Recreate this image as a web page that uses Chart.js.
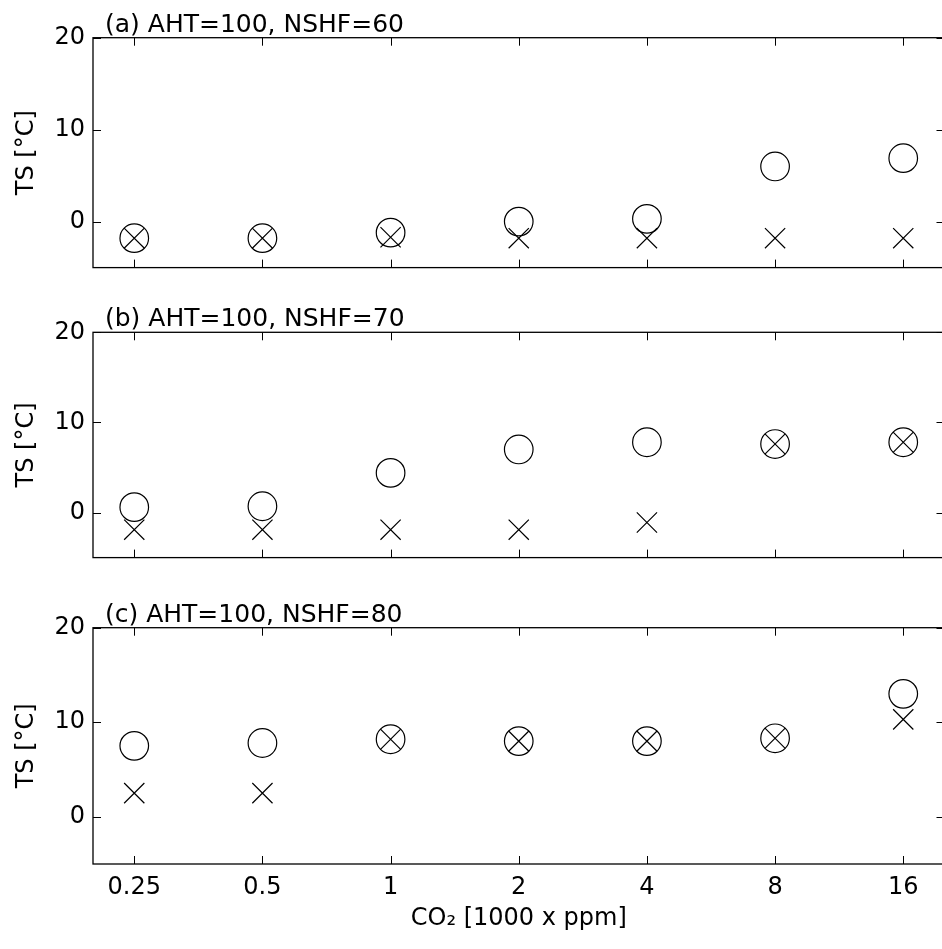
<!DOCTYPE html>
<html lang="en">
<head>
    <meta charset="UTF-8">
    <title>TS vs CO2</title>
    <script src="https://cdn.jsdelivr.net/npm/chart.js"></script>
    <style>
        body {
            margin: 0;
            background: #fff;
            overflow: hidden;
        }
        .wrap {
            position: relative;
            width: 942px;
            height: 949px;
            overflow: hidden;
        }
        .panel {
            position: absolute;
            left: 0;
        }
    </style>
</head>
<body>
    <div class="wrap">
        <div class="panel" style="top:0px"><canvas id="panelA" width="960" height="290"></canvas></div>
        <div class="panel" style="top:290px"><canvas id="panelB" width="960" height="290"></canvas></div>
        <div class="panel" style="top:580px"><canvas id="panelC" width="960" height="369"></canvas></div>
    </div>

    <script>
        // CO2 levels (1000 x ppm)
        const co2 = [0.25, 0.5, 1, 2, 4, 8, 16];
        const yTicks = [0, 10, 20];

        // (a) NSHF=60
        const circA = [-1.8, -1.8, -1.2, 0.0, 0.3, 6.0, 6.9];
        const crossA = [-1.8, -1.8, -1.7, -1.8, -1.8, -1.8, -1.8];
        // (b) NSHF=70
        const circB = [0.6, 0.7, 4.4, 7.0, 7.8, 7.6, 7.8];
        const crossB = [-1.9, -1.9, -1.9, -1.9, -1.1, 7.6, 7.8];
        // (c) NSHF=80
        const circC = [7.5, 7.8, 8.2, 8.0, 8.0, 8.3, 13.0];
        const crossC = [2.5, 2.5, 8.2, 8.0, 8.0, 8.3, 10.3];

        const titles = ['(a) AHT=100, NSHF=60', '(b) AHT=100, NSHF=70', '(c) AHT=100, NSHF=80'];

        // wide sans, closest to the stretched helvetica of the original
        const FONT = "'DejaVu Sans', sans-serif";

        // box frame, inward ticks and the panel title, matlab style
        const framePlugin = {
            id: 'frame',
            afterDraw(chart, args, opts) {
                const ctx = chart.ctx;
                const { left, right, top, bottom } = chart.chartArea;
                const xs = chart.scales.x, ys = chart.scales.y;
                ctx.save();
                ctx.strokeStyle = '#000';
                ctx.lineWidth = 1.3;
                ctx.strokeRect(left, top, right - left, bottom - top);
                ctx.lineWidth = 1;
                ctx.beginPath();
                co2.forEach(v => {
                    const x = Math.round(xs.getPixelForValue(v)) + 0.5;
                    ctx.moveTo(x, top); ctx.lineTo(x, top + 8);
                    ctx.moveTo(x, bottom); ctx.lineTo(x, bottom - 8);
                });
                yTicks.forEach(v => {
                    const y = Math.round(ys.getPixelForValue(v)) + 0.5;
                    ctx.moveTo(left, y); ctx.lineTo(left + 8, y);
                    ctx.moveTo(right, y); ctx.lineTo(right - 8, y);
                });
                ctx.stroke();
                ctx.fillStyle = '#000';
                ctx.font = '25px ' + FONT;
                ctx.textAlign = 'left';
                ctx.textBaseline = 'alphabetic';
                ctx.fillText(opts.title, left + 12, top - 6);
                ctx.restore();
            }
        };

        function makePanel(id, circ, cross, title, showX, padTop, padBottom) {
            new Chart(document.getElementById(id), {
                type: 'scatter',
                data: {
                    datasets: [{
                        label: 'o',
                        data: co2.map((c, i) => ({ x: c, y: circ[i] })),
                        pointStyle: 'circle',
                        pointRadius: 14.3,
                        pointHoverRadius: 14.3,
                        borderColor: '#000',
                        backgroundColor: 'rgba(0,0,0,0)',
                        borderWidth: 1.2
                    }, {
                        label: 'x',
                        data: co2.map((c, i) => ({ x: c, y: cross[i] })),
                        pointStyle: 'crossRot',
                        pointRadius: 14.3,
                        pointHoverRadius: 14.3,
                        borderColor: '#000',
                        backgroundColor: 'rgba(0,0,0,0)',
                        borderWidth: 1.2
                    }]
                },
                options: {
                    responsive: false,
                    animation: false,
                    events: [],
                    layout: { padding: { top: padTop, bottom: padBottom, left: 0, right: 10.5 } },
                    plugins: {
                        legend: { display: false },
                        tooltip: { enabled: false },
                        frame: { title: title }
                    },
                    scales: {
                        x: {
                            type: 'logarithmic',
                            min: 0.2,
                            max: 20,
                            display: showX,
                            grid: { display: false, drawTicks: false },
                            border: { display: false },
                            afterBuildTicks: s => { s.ticks = co2.map(v => ({ value: v })); },
                            afterFit: s => { if (showX) s.height = 85; },
                            ticks: {
                                color: '#000',
                                font: { family: FONT, size: 24 },
                                padding: 9,
                                maxRotation: 0,
                                autoSkip: false,
                                callback: v => String(v)
                            },
                            title: {
                                display: showX,
                                text: 'CO\u2082 [1000 x ppm]',
                                color: '#000',
                                font: { family: FONT, size: 24 },
                                padding: { top: 0, bottom: 16 }
                            }
                        },
                        y: {
                            min: -5,
                            max: 20,
                            grid: { display: false, drawTicks: false },
                            border: { display: false },
                            afterBuildTicks: s => { s.ticks = yTicks.map(v => ({ value: v })); },
                            afterFit: s => { s.width = 93; },
                            ticks: {
                                color: '#000',
                                font: { family: FONT, size: 24 },
                                padding: 8
                            },
                            title: {
                                display: true,
                                text: 'TS [\u00b0C]',
                                color: '#000',
                                font: { family: FONT, size: 24 },
                                padding: { top: 12, bottom: 0 }
                            }
                        }
                    }
                },
                plugins: [framePlugin]
            });
        }

        makePanel('panelA', circA, crossA, titles[0], false, 37.7, 17.3);
        makePanel('panelB', circB, crossB, titles[1], false, 42.3, 12.3);
        makePanel('panelC', circC, crossC, titles[2], true, 47.7, 0);
    </script>
</body>
</html>
